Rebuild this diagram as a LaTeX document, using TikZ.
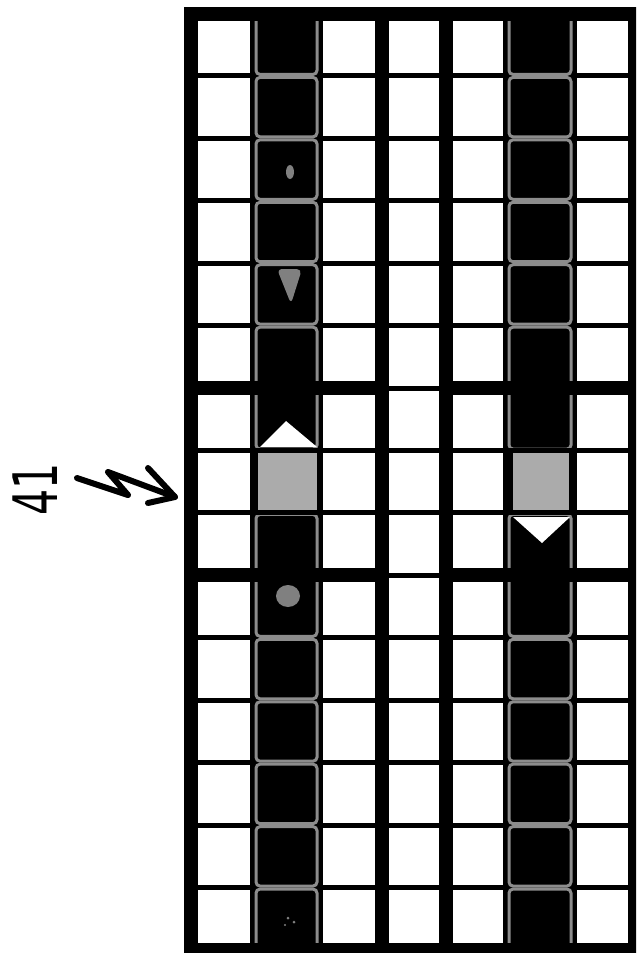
\documentclass[tikz,border=0pt]{standalone}
\usepackage{fontspec}
\newfontfamily\handfont{DejaVu Sans}
\begin{document}
\begin{tikzpicture}[x=0.75pt,y=-0.75pt,
  thinline/.style={line width=3.75pt, black},
  thickline/.style={line width=10.5pt, black},
  rim/.style={draw=black!45, line width=2.25pt, fill=black, rounded corners=3pt},
  greycell/.style={fill=black!33},
  blob/.style={fill=black!50},
  hand/.style={line width=4.5pt, line cap=round, line join=round}]
\useasboundingbox (0,0) rectangle (636,953);
\clip (0,0) rectangle (636,953);
\fill[white] (0,0) rectangle (636,953);

% thin horizontal grid lines
\foreach \k in {1,...,14} {
  \pgfmathsetmacro\yy{13.5+62.433*\k}
  \draw[thinline] (191,\yy) -- (635,\yy);
}
% thin vertical grid lines
\foreach \xx in {252.5,320,505.5,574} \draw[thinline] (\xx,13.5) -- (\xx,950);

% dark columns
\foreach \xa/\xb in {252.5/320, 505.5/574} {
  \fill[black] (\xa,13.5) rectangle (\xb,950);
  \foreach \k in {0,...,14} {
    \ifnum\k=7\relax\else
      \pgfmathsetmacro\ya{13.5+62.433*\k}
      \pgfmathsetmacro\yb{13.5+62.433*(\k+1)}
      \draw[rim] (\xa+3.5,\ya+1.5) rectangle (\xb-3,\yb-1.5);
    \fi
  }
  \draw[thinline] (\xa,450.53) -- (\xb,450.53);
  \draw[thinline] (\xa,512.96) -- (\xb,512.96);
}

% grey cells of the middle row
\fill[greycell] (258,453) rectangle (317,510);
\fill[greycell] (513,453) rectangle (569,510);

% white triangles
\fill[white] (260,447) -- (317,447) -- (286,421) -- cycle;
\fill[white] (513,517) -- (570,517) -- (542,543) -- cycle;

% grey speckles
\fill[blob] (290,172) ellipse (4 and 7);
\fill[blob, rounded corners=4pt] (277,269) -- (302,269) -- (291,304) -- cycle;
\fill[blob] (288,596) ellipse (12 and 11);
\fill[blob] (288,918) circle (1.5);
\fill[blob] (294,922) circle (1.5);
\fill[blob] (285,925) circle (1.2);

% thick bars
\draw[thickline] (381.5,13.5) -- (381.5,950);
\draw[thickline] (445.5,13.5) -- (445.5,950);
\draw[thickline] (191,388.1) -- (381.5,388.1);
\draw[thickline] (445.5,388.1) -- (635,388.1);
\draw[thickline] (191,575.4) -- (381.5,575.4);
\draw[thickline] (445.5,575.4) -- (635,575.4);
% frame
\draw[thickline] (191,13.5) rectangle (635,950);

% label and zigzag arrow
\node[rotate=90, inner sep=0pt, font=\handfont\fontsize{46}{46}\selectfont] (lbl) at (35,489) {\scalebox{0.67}[1]{41}};
\coordinate (a0) at (77,478);
\coordinate (a1) at (128,495);
\coordinate (a2) at (108,472);
\coordinate (tip) at (175,497);
\coordinate (h1) at (148,468);
\coordinate (h2) at (148,503);
\draw[hand] (a0) -- (a1) -- (a2) -- (tip);
\draw[hand] (h1) -- (tip) -- (h2);
\end{tikzpicture}
\end{document}
